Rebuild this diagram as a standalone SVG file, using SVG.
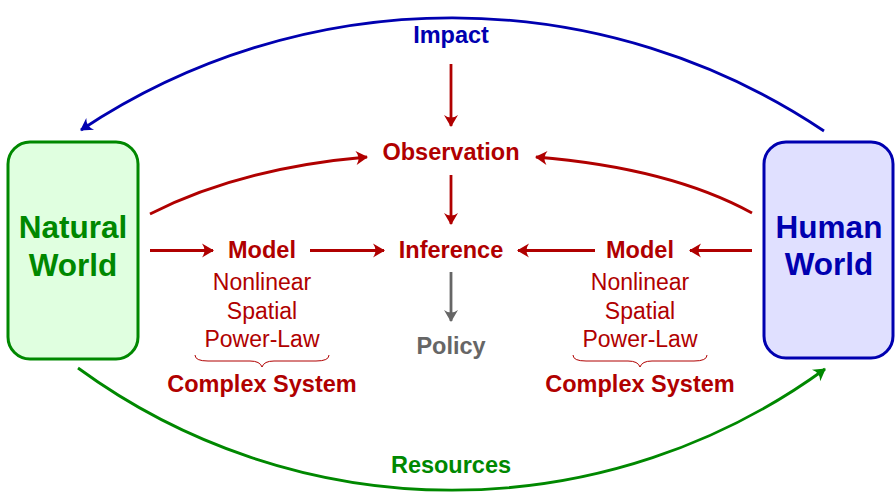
<svg xmlns="http://www.w3.org/2000/svg" width="895" height="492" viewBox="0 0 895 492">
<style>
text{font-family:"Liberation Sans",Arial,sans-serif;text-anchor:middle}
.b{font-weight:bold;font-size:23.5px}
.n{font-size:23px}
.big{font-weight:bold;font-size:31.5px}
.red{fill:#b00000}
.blue{fill:#0000b0}
.green{fill:#008800}
.gray{fill:#666666}
.c{fill:none;stroke-width:2.8}
.cr{stroke:#b00000;marker-end:url(#ar)}
.cb{stroke:#0000b0;marker-end:url(#ab)}
.cg{stroke:#008800;marker-end:url(#ag)}
.cy{stroke:#666666;marker-end:url(#ay)}
</style>
<defs>
<marker id="ar" markerUnits="userSpaceOnUse" markerWidth="16" markerHeight="16" refX="0" refY="0" viewBox="-14 -8 16 16" orient="auto"><path d="M1,0 L-11,-7 Q-6,0 -11,7 Z" fill="#b00000"/></marker>
<marker id="ab" markerUnits="userSpaceOnUse" markerWidth="16" markerHeight="16" refX="0" refY="0" viewBox="-14 -8 16 16" orient="auto"><path d="M1,0 L-11,-7 Q-6,0 -11,7 Z" fill="#0000b0"/></marker>
<marker id="ag" markerUnits="userSpaceOnUse" markerWidth="16" markerHeight="16" refX="0" refY="0" viewBox="-14 -8 16 16" orient="auto"><path d="M1,0 L-11,-7 Q-6,0 -11,7 Z" fill="#008800"/></marker>
<marker id="ay" markerUnits="userSpaceOnUse" markerWidth="16" markerHeight="16" refX="0" refY="0" viewBox="-14 -8 16 16" orient="auto"><path d="M1,0 L-11,-7 Q-6,0 -11,7 Z" fill="#666666"/></marker>
</defs>
<g id="connectors">
<path class="c cb" d="M824,131 A669,669 0 0 0 81,130"/>
<path class="c cg" d="M78,368 A634,634 0 0 0 825,369"/>
<path class="c cr" d="M451,64 L451,126"/>
<path class="c cr" d="M451,175 L451,224"/>
<path class="c cy" d="M451,272 L451,321"/>
<path class="c cr" d="M150,250.5 L213,250.5"/>
<path class="c cr" d="M310,250.5 L384,250.5"/>
<path class="c cr" d="M595,250.5 L518,250.5"/>
<path class="c cr" d="M752,250.5 L690,250.5"/>
<path class="c cr" d="M150,214 Q240,168 367,157"/>
<path class="c cr" d="M752,213 Q670,168 536,157"/>
<path d="M195,355 Q195,361 208,361 L250,361 Q260,361 262,367 Q264,361 274,361 L316,361 Q329,361 329,355" fill="none" stroke="#b00000" stroke-width="1"/>
<path d="M573,355 Q573,361 586,361 L628,361 Q638,361 640,367 Q642,361 652,361 L694,361 Q707,361 707,355" fill="none" stroke="#b00000" stroke-width="1"/>
</g>
<g id="natural-world">
<rect x="8" y="142" width="130" height="217" rx="22" fill="#e0ffe0" stroke="#008800" stroke-width="3"/>
<text class="big green" x="73" y="238">Natural</text>
<text class="big green" x="73" y="276">World</text>
</g>
<g id="human-world">
<rect x="764" y="142" width="129" height="216" rx="22" fill="#e0e0ff" stroke="#0000b0" stroke-width="3"/>
<text class="big blue" x="829" y="238">Human</text>
<text class="big blue" x="829" y="275">World</text>
</g>
<g id="impact"><text class="b blue" x="451" y="43">Impact</text></g>
<g id="observation"><text class="b red" x="451" y="160">Observation</text></g>
<g id="inference"><text class="b red" x="451" y="258">Inference</text></g>
<g id="policy"><text class="b gray" x="451" y="354">Policy</text></g>
<g id="model-left">
<text class="b red" x="262" y="258">Model</text>
<text class="n red" x="262" y="290">Nonlinear</text>
<text class="n red" x="262" y="319">Spatial</text>
<text class="n red" x="262" y="347">Power-Law</text>
<text class="b red" x="262" y="392">Complex System</text>
</g>
<g id="model-right">
<text class="b red" x="640" y="258">Model</text>
<text class="n red" x="640" y="290">Nonlinear</text>
<text class="n red" x="640" y="319">Spatial</text>
<text class="n red" x="640" y="347">Power-Law</text>
<text class="b red" x="640" y="392">Complex System</text>
</g>
<g id="resources"><text class="b green" x="451" y="473">Resources</text></g>
</svg>
